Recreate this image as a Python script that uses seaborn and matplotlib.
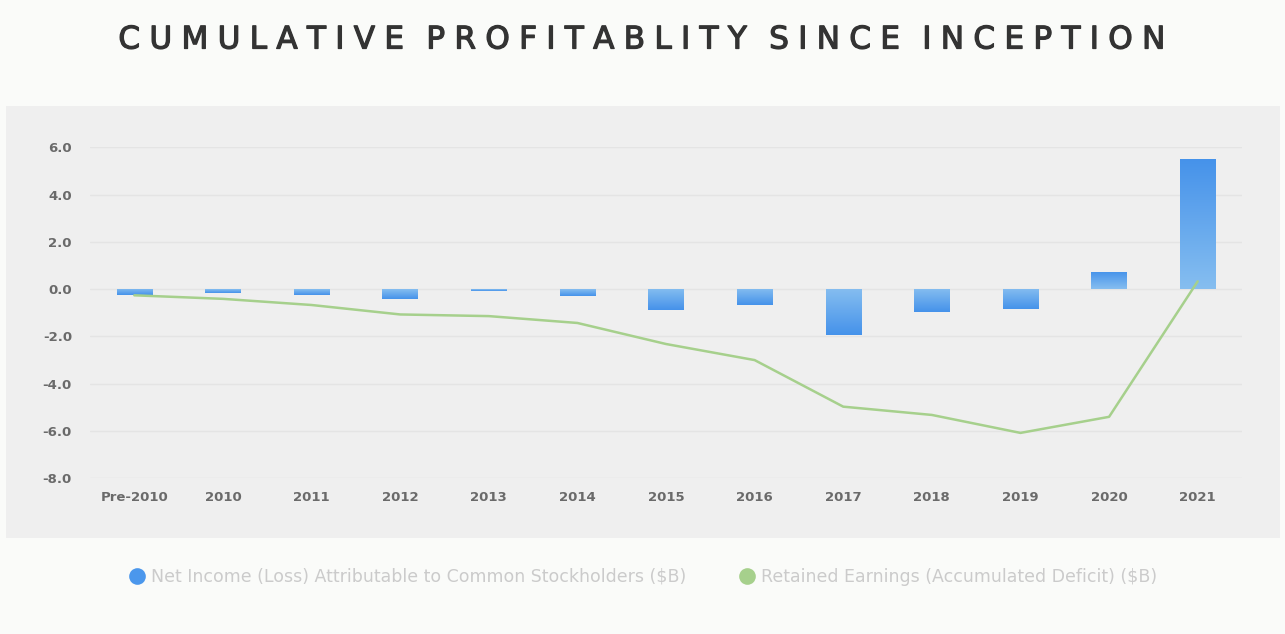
import numpy as np
import pandas as pd
import seaborn as sns
import matplotlib.pyplot as plt
import matplotlib.patheffects as pe
from matplotlib.lines import Line2D
from matplotlib.colors import LinearSegmentedColormap
from matplotlib.patches import Rectangle

years = ['Pre-2010', '2010', '2011', '2012', '2013', '2014', '2015', '2016',
         '2017', '2018', '2019', '2020', '2021']
net_income = [-0.26, -0.15, -0.25, -0.40, -0.07, -0.29, -0.89, -0.68,
              -1.96, -0.98, -0.86, 0.72, 5.52]
retained = [-0.26, -0.41, -0.67, -1.07, -1.14, -1.43, -2.32, -3.00,
            -4.97, -5.32, -6.08, -5.40, 0.33]
yticks = [6, 4, 2, 0, -2, -4, -6, -8]

df = pd.DataFrame({'year': years, 'net': net_income, 'ret': retained})

sns.set_style('white')
plt.rcParams['font.family'] = ['DejaVu Sans']

fig = plt.figure(figsize=(12.85, 6.34), dpi=100)
fig.patch.set_facecolor('#fafbf9')
# grey panel behind the plot
fig.patches.append(Rectangle((6 / 1285, 1 - 538 / 634), 1274 / 1285, 432 / 634,
                             transform=fig.transFigure, facecolor='#efefef',
                             edgecolor='none', zorder=-10))

ax = fig.add_axes([90 / 1285, 1 - 478.3 / 634, 1152 / 1285, 331 / 634])
ax.set_facecolor('none')
ax.set_zorder(5)

sns.barplot(data=df, x='year', y='net', ax=ax, width=0.4, color='#5a9fec',
            edgecolor='none', zorder=2)

# gradient fill: darker blue away from zero
cmap = LinearSegmentedColormap.from_list('blu', ['#86bef0', '#4592ea'])
grad = np.linspace(0, 1, 256).reshape(-1, 1)
for p in ax.patches:
    x0, w = p.get_x(), p.get_width()
    y0, h = p.get_y(), p.get_height()
    lo, hi = min(y0, y0 + h), max(y0, y0 + h)
    img = grad if hi > 0 else grad[::-1]
    im = ax.imshow(img, cmap=cmap, aspect='auto', extent=(x0, x0 + w, lo, hi),
                   origin='lower', zorder=3)
    im.set_clip_path(p)
    p.set_alpha(0)

sns.lineplot(data=df, x='year', y='ret', ax=ax, color='#a6d08c', linewidth=1.8,
             zorder=4, sort=False)

ax.set_xlim(-0.5, 12.5)
ax.set_ylim(-8, 6)
ax.set_yticks(yticks)
ax.set_yticklabels(['%.1f' % v for v in yticks])
ax.grid(axis='y', color='#e4e4e4', linewidth=1)
ax.set_axisbelow(True)
sns.despine(ax=ax, left=True, bottom=True)
ax.tick_params(length=0, labelsize=9.5, labelcolor='#6a6a6a')
ax.tick_params(axis='y', pad=13)
ax.tick_params(axis='x', pad=9)
for t in ax.get_xticklabels() + ax.get_yticklabels():
    t.set_fontweight('bold')
ax.set(xlabel=None, ylabel=None)

title = 'CUMULATIVE PROFITABLITY SINCE INCEPTION'
spaced = '\u2009\u200a'.join(title).replace('\u2009\u200a \u2009\u200a', '\u2009 \u2009')
fig.text(0.5, 1 - 40 / 634, spaced, ha='center', va='center', fontsize=22.4,
         color='#333333',
         path_effects=[pe.withStroke(linewidth=0.9, foreground='#333333')])

handles = [Line2D([], [], marker='o', linestyle='none', markersize=12,
                  markerfacecolor='#4b97ec', markeredgecolor='none'),
           Line2D([], [], marker='o', linestyle='none', markersize=12,
                  markerfacecolor='#a6d08c', markeredgecolor='none')]
labels = ['Net Income (Loss) Attributable to Common Stockholders ($B)',
          'Retained Earnings (Accumulated Deficit) ($B)']
fig.legend(handles, labels, loc='center', bbox_to_anchor=(0.5, 1 - 577 / 634),
           ncol=2, frameon=False, fontsize=12.5, labelcolor='#cbcbcb',
           handletextpad=0.3, columnspacing=3.0, handlelength=1)

fig.savefig('out.png', dpi=100, facecolor=fig.get_facecolor())
